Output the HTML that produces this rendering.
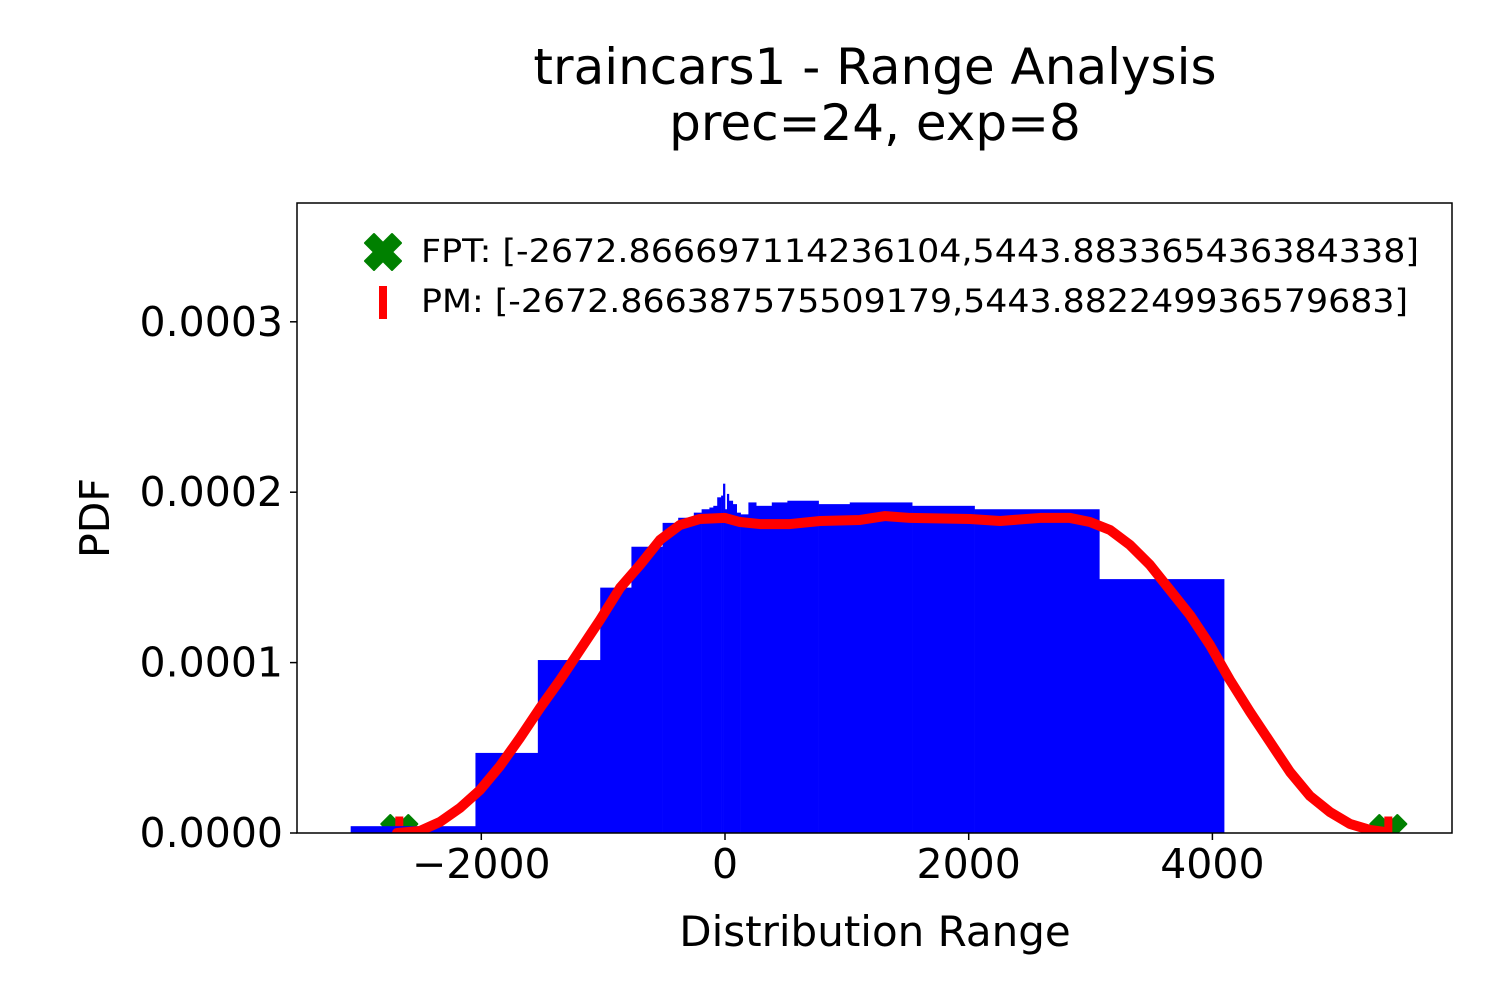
<!DOCTYPE html>
<html><head><meta charset="utf-8"><style>
body{margin:0;background:#fff}
svg{display:block;font-family:"DejaVu Sans","Liberation Sans",sans-serif}
</style></head><body>
<svg id="chart" width="1500" height="1000" viewBox="0 0 1500 1000" xmlns="http://www.w3.org/2000/svg">
<rect width="1500" height="1000" fill="#fff"/>
<text x="875" y="84" font-size="50" text-anchor="middle">traincars1 - Range Analysis</text>
<text x="875" y="140" font-size="50" text-anchor="middle">prec=24, exp=8</text>
<defs><clipPath id="pc"><rect x="297" y="203" width="1155" height="630"/></clipPath></defs>
<g id="plot" clip-path="url(#pc)"></g>
<rect x="297" y="203" width="1155" height="630" fill="none" stroke="#000" stroke-width="1.5"/>
<g id="xticks"></g><g id="yticks"></g>
<text x="875" y="946" font-size="42" text-anchor="middle">Distribution Range</text>
<text x="0" y="0" font-size="41" text-anchor="middle" transform="translate(109,518) rotate(-90)">PDF</text>
<g>
<path d="M-9,-18 L0,-9 L9,-18 L18,-9 L9,0 L18,9 L9,18 L0,9 L-9,18 L-18,9 L-9,0 L-18,-9 Z" fill="#008000" stroke="#008000" stroke-width="2" stroke-linejoin="round" transform="translate(383,252)"/>
<text x="421" y="262" font-size="32" textLength="998" lengthAdjust="spacingAndGlyphs">FPT: [-2672.866697114236104,5443.883365436384338]</text>
<rect x="379" y="286" width="8" height="33" fill="#ff0000"/>
<text x="421" y="312" font-size="32" textLength="987" lengthAdjust="spacingAndGlyphs">PM: [-2672.866387575509179,5443.882249936579683]</text>
</g>
</svg>
<script>
const binEdges=[-3072,-2048,-1536,-1024,-768,-512,-384,-256,-192,-128,-96,-64,-32,-16,0,16,32,64,96,128,192,256,384,512,768,1024,1536,2048,3072,4096];
const binHeights=[0.000004,0.000047,0.0001015,0.000144,0.000168,0.000182,0.000185,0.000188,0.00019,0.000191,0.000192,0.000197,0.000198,0.000205,0.00019,0.000199,0.000195,0.000193,0.000188,0.000187,0.000194,0.000192,0.000194,0.000195,0.000193,0.000194,0.000192,0.00019,0.000149];
const kdeX=[-2692,-2503,-2339,-2175,-2011,-1847,-1683,-1518,-1354,-1190,-1026,-862,-698,-533,-369,-205,0,123,287,533,780,1108,1313,1518,2011,2257,2585,2831,2995,3160,3324,3488,3652,3816,3980,4144,4309,4473,4637,4801,4965,5129,5293,5416];
const kdeY=[0,1.2e-6,6.5e-6,14.7e-6,25.2e-6,39.3e-6,55.8e-6,73.4e-6,89.8e-6,107.4e-6,125e-6,143.8e-6,157.3e-6,172e-6,180.8e-6,184.3e-6,184.9e-6,182.5e-6,181.3e-6,181.3e-6,183.1e-6,183.7e-6,186e-6,184.9e-6,184.3e-6,183.1e-6,184.9e-6,184.9e-6,182.5e-6,177.8e-6,169e-6,157.3e-6,142.6e-6,127.9e-6,110.3e-6,89.8e-6,71e-6,53.4e-6,35.8e-6,21.7e-6,12.3e-6,5.3e-6,1.8e-6,0.6e-6];
const fptRange=[-2672.866697114236,5443.883365436384];
const pmRange=[-2672.866387575509,5443.88224993658];
const xTicks=[-2000,0,2000,4000];
const xTickLabels=["\u22122000","0","2000","4000"];
const yTicks=[0,0.0001,0.0002,0.0003];
const yTickLabels=["0.0000","0.0001","0.0002","0.0003"];

const NS="http://www.w3.org/2000/svg";
const X=v=>725+v*0.121850;
const Y=v=>833-v*1704000;
function mk(tag,attrs,parent){const e=document.createElementNS(NS,tag);for(const k in attrs)e.setAttribute(k,attrs[k]);parent.appendChild(e);return e;}
const plot=document.getElementById('plot');
const xs="M-9,-18 L0,-9 L9,-18 L18,-9 L9,0 L18,9 L9,18 L0,9 L-9,18 L-18,9 L-9,0 L-18,-9 Z";
fptRange.forEach(v=>{const m=mk('path',{d:xs,fill:'#008000',stroke:'#008000','stroke-width':2,'stroke-linejoin':'round',transform:`translate(${X(v)},${Y(0)})`},plot);

});
pmRange.forEach(v=>{const m=mk('rect',{x:X(v)-4,y:Y(0)-16.5,width:8,height:33,fill:'#ff0000'},plot);

});
for(let i=0;i<binHeights.length;i++){
 const x0=X(binEdges[i]),x1=X(binEdges[i+1]);
 const r=mk('rect',{x:x0,y:Y(binHeights[i]),width:x1-x0+0.3,height:Y(0)-Y(binHeights[i]),fill:'#0000ff'},plot);
 
 
}
const p=mk('polyline',{points:kdeX.map((x,i)=>X(x)+','+Y(kdeY[i])).join(' '),fill:'none',stroke:'#ff0000','stroke-width':10,'stroke-linejoin':'round','stroke-linecap':'round'},plot);


const xt=document.getElementById('xticks');
xTicks.forEach((v,i)=>{const l=mk('line',{x1:X(v),x2:X(v),y1:833,y2:840,stroke:'#000','stroke-width':1.5},xt);


const t=mk('text',{x:X(v),y:878,'font-size':41,'text-anchor':'middle'},xt);t.textContent=xTickLabels[i];

});
const yt=document.getElementById('yticks');
yTicks.forEach((v,i)=>{const l=mk('line',{x1:290,x2:297,y1:Y(v),y2:Y(v),stroke:'#000','stroke-width':1.5},yt);


const t=mk('text',{x:283,y:Y(v)+14,'font-size':41,'text-anchor':'end'},yt);t.textContent=yTickLabels[i];

});
</script>
</body></html>
